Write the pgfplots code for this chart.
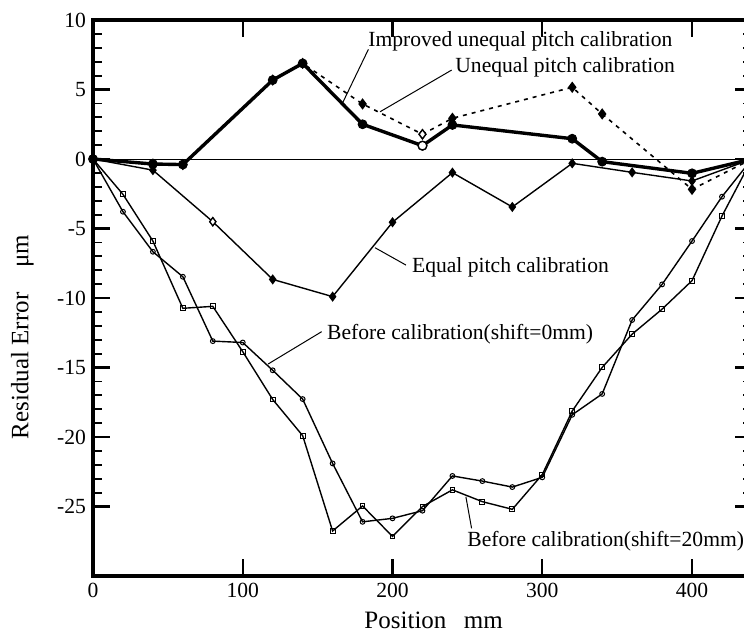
\documentclass[border=0pt]{standalone}
\usepackage{fontspec}
\setmainfont{Liberation Serif}
\usepackage{pgfplots}
\pgfplotsset{compat=1.18}
\begin{document}
\begin{tikzpicture}
\begin{axis}[
  scale only axis,
  width=329.45pt, height=278pt,
  xmin=0, xmax=440, ymin=-30, ymax=10,
  xtick={0,100,200,300,400},
  ytick={-25,-20,-15,-10,-5,0,5,10},
  minor y tick num=4,
  tick align=inside,
  tick pos=both,
  major tick length=8.5pt, minor tick length=4.5pt,
  major tick style={line width=1.1pt, black},
  minor tick style={line width=0.9pt, black},
  axis line style={line width=2pt},
  /pgf/number format/assume math mode=true,
  font=\fontsize{10.8}{13}\selectfont,
  ticklabel style={font=\fontsize{10.8}{13}\selectfont},
  xlabel={Position\hspace{0.7em}mm},
  ylabel={Residual Error\hspace{1em}μm},
  every axis x label/.style={at={(axis description cs:0.517,-0.079)},anchor=center,font=\fontsize{12.5}{15}\selectfont},
  every axis y label/.style={at={(axis description cs:-0.107,0.43)},rotate=90,anchor=center,font=\fontsize{12.5}{15}\selectfont},
]
% zero line
\addplot[line width=0.4pt, no marks] coordinates {(0,0) (440,0)};
% Before calibration (shift=20mm)
\addplot[line width=0.7pt, mark=square, mark size=1.2pt, mark options={line width=0.5pt}] coordinates {
(0,0) (20,-2.54) (40,-5.9) (60,-10.74) (80,-10.6) (100,-13.86) (120,-17.3) (140,-19.9) (160,-26.76) (180,-24.96) (200,-27.15) (220,-25.0) (240,-23.8) (260,-24.65) (280,-25.2) (300,-22.7) (320,-18.13) (340,-14.99) (360,-12.6) (380,-10.8) (400,-8.75) (420,-4.1) (440,0)};
% Before calibration (shift=0mm)
\addplot[line width=0.7pt, mark=o, mark size=1.2pt, mark options={line width=0.5pt}] coordinates {
(0,0) (20,-3.79) (40,-6.67) (60,-8.47) (80,-13.1) (100,-13.2) (120,-15.2) (140,-17.27) (160,-21.9) (180,-26.1) (200,-25.85) (220,-25.3) (240,-22.8) (260,-23.17) (280,-23.6) (300,-22.9) (320,-18.4) (340,-16.9) (360,-11.58) (380,-9.02) (400,-5.9) (420,-2.71) (440,0)};
% Equal pitch calibration
\addplot[line width=0.7pt, mark=diamond*, mark size=2pt] coordinates {
(0,0) (40,-0.8) (80,-4.51) (120,-8.66) (160,-9.9) (200,-4.55) (240,-0.98) (280,-3.45) (320,-0.31) (360,-0.96) (400,-1.58) (440,0)};
\addplot[only marks, mark=diamond*, mark size=2pt, mark options={fill=white, line width=0.6pt}] coordinates {(80,-4.51)};
% Unequal pitch calibration (dotted)
\addplot[line width=0.8pt, dash pattern=on 2pt off 2.5pt, mark=diamond*, mark size=2.2pt, mark options={solid}] coordinates {
(0,0) (40,-0.36) (60,-0.4) (120,5.68) (140,6.88) (180,3.96) (220,1.78) (240,2.93) (320,5.16) (340,3.24) (400,-2.18) (440,0)};
\addplot[only marks, mark=diamond*, mark size=2.2pt, mark options={fill=white, line width=0.6pt}] coordinates {(220,1.78)};
% Improved unequal pitch calibration (thick)
\addplot[line width=1.7pt, mark=*, mark size=2.2pt, mark options={line width=0.5pt}] coordinates {
(0,0) (40,-0.36) (60,-0.4) (120,5.68) (140,6.88) (180,2.5) (220,0.96) (240,2.45) (320,1.46) (340,-0.19) (400,-1.03) (440,0)};
\addplot[only marks, mark=*, mark size=2.2pt, mark options={fill=white, line width=0.7pt}] coordinates {(220,0.96)};
% annotations
\node[anchor=base west, inner sep=0pt] at (axis cs:183.6,8.08) {Improved unequal pitch calibration};
\draw[line width=0.5pt] (axis cs:183.9,7.89) -- (axis cs:166.5,4.0);
\node[anchor=base west, inner sep=0pt] at (axis cs:241.7,6.21) {Unequal pitch calibration};
\draw[line width=0.5pt] (axis cs:239.5,6.40) -- (axis cs:191.7,3.40);
\node[anchor=base west, inner sep=0pt] at (axis cs:212.8,-8.15) {Equal pitch calibration};
\draw[line width=0.5pt] (axis cs:209.0,-7.63) -- (axis cs:188.3,-6.38);
\node[anchor=base west, inner sep=0pt] at (axis cs:156.1,-12.95) {Before calibration(shift=0mm)};
\draw[line width=0.5pt] (axis cs:152.7,-12.42) -- (axis cs:116.9,-14.75);
\node[anchor=base west, inner sep=0pt] at (axis cs:249.7,-27.9) {Before calibration(shift=20mm)};
\draw[line width=0.5pt] (axis cs:252.8,-26.57) -- (axis cs:249,-24.3);
\coordinate (bbl) at (axis cs:-62.1,-34.03);
\coordinate (btr) at (axis cs:434.7,11.44);
\end{axis}
\pgfresetboundingbox
\path[use as bounding box] (bbl) rectangle (btr);
\end{tikzpicture}
\end{document}
